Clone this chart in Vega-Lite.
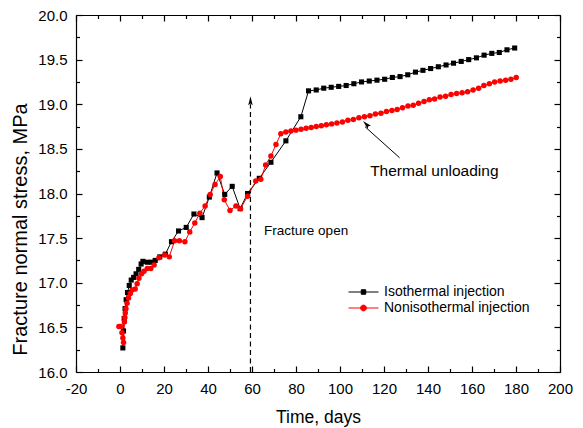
{
  "$schema": "https://vega.github.io/schema/vega-lite/v6.json",
  "width": 484,
  "height": 357,
  "autosize": {"type": "none"},
  "padding": {"left": 76, "top": 15, "right": 23, "bottom": 56},
  "background": "white",
  "config": {
    "view": {"stroke": null},
    "font": "Liberation Sans",
    "axis": {
      "labelFont": "Liberation Sans",
      "labelFontSize": 15,
      "labelColor": "black",
      "titleFont": "Liberation Sans",
      "titleColor": "black",
      "titleFontWeight": "normal",
      "domainColor": "black",
      "domainWidth": 1.2,
      "tickColor": "black",
      "tickWidth": 1.2,
      "grid": false,
      "labelFlush": false,
      "labelOverlap": false
    }
  },
  "datasets": {
    "series": [
      {"t": 1.3, "v": 16.27, "s": "Isothermal injection"},
      {"t": 1.6, "v": 16.46, "s": "Isothermal injection"},
      {"t": 1.9, "v": 16.6, "s": "Isothermal injection"},
      {"t": 2.3, "v": 16.71, "s": "Isothermal injection"},
      {"t": 2.8, "v": 16.81, "s": "Isothermal injection"},
      {"t": 3.4, "v": 16.89, "s": "Isothermal injection"},
      {"t": 4.2, "v": 16.97, "s": "Isothermal injection"},
      {"t": 5.1, "v": 17.03, "s": "Isothermal injection"},
      {"t": 6.2, "v": 17.06, "s": "Isothermal injection"},
      {"t": 7.3, "v": 17.1, "s": "Isothermal injection"},
      {"t": 8.5, "v": 17.15, "s": "Isothermal injection"},
      {"t": 9.6, "v": 17.21, "s": "Isothermal injection"},
      {"t": 10.4, "v": 17.24, "s": "Isothermal injection"},
      {"t": 12.4, "v": 17.23, "s": "Isothermal injection"},
      {"t": 14.3, "v": 17.23, "s": "Isothermal injection"},
      {"t": 16.0, "v": 17.25, "s": "Isothermal injection"},
      {"t": 18.1, "v": 17.29, "s": "Isothermal injection"},
      {"t": 20.6, "v": 17.32, "s": "Isothermal injection"},
      {"t": 23.4, "v": 17.46, "s": "Isothermal injection"},
      {"t": 26.6, "v": 17.58, "s": "Isothermal injection"},
      {"t": 30.1, "v": 17.62, "s": "Isothermal injection"},
      {"t": 33.6, "v": 17.77, "s": "Isothermal injection"},
      {"t": 37.3, "v": 17.73, "s": "Isothermal injection"},
      {"t": 40.6, "v": 17.96, "s": "Isothermal injection"},
      {"t": 44.1, "v": 18.23, "s": "Isothermal injection"},
      {"t": 47.6, "v": 17.99, "s": "Isothermal injection"},
      {"t": 51.0, "v": 18.08, "s": "Isothermal injection"},
      {"t": 54.6, "v": 17.83, "s": "Isothermal injection"},
      {"t": 58.0, "v": 18.0, "s": "Isothermal injection"},
      {"t": 63.3, "v": 18.17, "s": "Isothermal injection"},
      {"t": 68.6, "v": 18.35, "s": "Isothermal injection"},
      {"t": 75.4, "v": 18.59, "s": "Isothermal injection"},
      {"t": 82.2, "v": 18.86, "s": "Isothermal injection"},
      {"t": 85.7, "v": 19.15, "s": "Isothermal injection"},
      {"t": 89.2, "v": 19.16, "s": "Isothermal injection"},
      {"t": 92.6, "v": 19.18, "s": "Isothermal injection"},
      {"t": 96.0, "v": 19.19, "s": "Isothermal injection"},
      {"t": 99.4, "v": 19.2, "s": "Isothermal injection"},
      {"t": 102.8, "v": 19.21, "s": "Isothermal injection"},
      {"t": 106.3, "v": 19.23, "s": "Isothermal injection"},
      {"t": 109.8, "v": 19.25, "s": "Isothermal injection"},
      {"t": 113.3, "v": 19.26, "s": "Isothermal injection"},
      {"t": 116.8, "v": 19.27, "s": "Isothermal injection"},
      {"t": 120.3, "v": 19.28, "s": "Isothermal injection"},
      {"t": 123.8, "v": 19.3, "s": "Isothermal injection"},
      {"t": 127.3, "v": 19.31, "s": "Isothermal injection"},
      {"t": 130.8, "v": 19.33, "s": "Isothermal injection"},
      {"t": 134.3, "v": 19.36, "s": "Isothermal injection"},
      {"t": 137.7, "v": 19.38, "s": "Isothermal injection"},
      {"t": 141.2, "v": 19.4, "s": "Isothermal injection"},
      {"t": 144.7, "v": 19.42, "s": "Isothermal injection"},
      {"t": 148.2, "v": 19.44, "s": "Isothermal injection"},
      {"t": 151.6, "v": 19.46, "s": "Isothermal injection"},
      {"t": 155.1, "v": 19.48, "s": "Isothermal injection"},
      {"t": 158.5, "v": 19.5, "s": "Isothermal injection"},
      {"t": 162.0, "v": 19.52, "s": "Isothermal injection"},
      {"t": 165.5, "v": 19.55, "s": "Isothermal injection"},
      {"t": 169.0, "v": 19.57, "s": "Isothermal injection"},
      {"t": 172.4, "v": 19.58, "s": "Isothermal injection"},
      {"t": 175.9, "v": 19.61, "s": "Isothermal injection"},
      {"t": 179.4, "v": 19.63, "s": "Isothermal injection"},
      {"t": -0.5, "v": 16.51, "s": "Nonisothermal injection"},
      {"t": 0.4, "v": 16.51, "s": "Nonisothermal injection"},
      {"t": 0.9, "v": 16.44, "s": "Nonisothermal injection"},
      {"t": 1.3, "v": 16.38, "s": "Nonisothermal injection"},
      {"t": 1.6, "v": 16.33, "s": "Nonisothermal injection"},
      {"t": 2.0, "v": 16.56, "s": "Nonisothermal injection"},
      {"t": 2.2, "v": 16.61, "s": "Nonisothermal injection"},
      {"t": 2.4, "v": 16.66, "s": "Nonisothermal injection"},
      {"t": 2.7, "v": 16.71, "s": "Nonisothermal injection"},
      {"t": 3.2, "v": 16.77, "s": "Nonisothermal injection"},
      {"t": 3.9, "v": 16.83, "s": "Nonisothermal injection"},
      {"t": 4.7, "v": 16.88, "s": "Nonisothermal injection"},
      {"t": 5.5, "v": 16.92, "s": "Nonisothermal injection"},
      {"t": 6.9, "v": 16.93, "s": "Nonisothermal injection"},
      {"t": 7.8, "v": 16.99, "s": "Nonisothermal injection"},
      {"t": 8.6, "v": 17.05, "s": "Nonisothermal injection"},
      {"t": 9.8, "v": 17.1, "s": "Nonisothermal injection"},
      {"t": 10.9, "v": 17.13, "s": "Nonisothermal injection"},
      {"t": 12.4, "v": 17.16, "s": "Nonisothermal injection"},
      {"t": 14.0, "v": 17.16, "s": "Nonisothermal injection"},
      {"t": 15.5, "v": 17.2, "s": "Nonisothermal injection"},
      {"t": 17.7, "v": 17.28, "s": "Nonisothermal injection"},
      {"t": 20.3, "v": 17.31, "s": "Nonisothermal injection"},
      {"t": 22.4, "v": 17.29, "s": "Nonisothermal injection"},
      {"t": 24.8, "v": 17.47, "s": "Nonisothermal injection"},
      {"t": 27.0, "v": 17.47, "s": "Nonisothermal injection"},
      {"t": 29.5, "v": 17.46, "s": "Nonisothermal injection"},
      {"t": 31.7, "v": 17.57, "s": "Nonisothermal injection"},
      {"t": 34.0, "v": 17.67, "s": "Nonisothermal injection"},
      {"t": 36.3, "v": 17.78, "s": "Nonisothermal injection"},
      {"t": 38.7, "v": 17.86, "s": "Nonisothermal injection"},
      {"t": 41.0, "v": 17.99, "s": "Nonisothermal injection"},
      {"t": 43.2, "v": 18.1, "s": "Nonisothermal injection"},
      {"t": 45.6, "v": 18.19, "s": "Nonisothermal injection"},
      {"t": 47.4, "v": 17.93, "s": "Nonisothermal injection"},
      {"t": 50.0, "v": 17.81, "s": "Nonisothermal injection"},
      {"t": 52.7, "v": 17.86, "s": "Nonisothermal injection"},
      {"t": 54.8, "v": 17.83, "s": "Nonisothermal injection"},
      {"t": 58.0, "v": 17.97, "s": "Nonisothermal injection"},
      {"t": 61.7, "v": 18.14, "s": "Nonisothermal injection"},
      {"t": 64.0, "v": 18.16, "s": "Nonisothermal injection"},
      {"t": 66.2, "v": 18.32, "s": "Nonisothermal injection"},
      {"t": 68.6, "v": 18.42, "s": "Nonisothermal injection"},
      {"t": 70.9, "v": 18.55, "s": "Nonisothermal injection"},
      {"t": 73.1, "v": 18.67, "s": "Nonisothermal injection"},
      {"t": 75.4, "v": 18.69, "s": "Nonisothermal injection"},
      {"t": 77.7, "v": 18.7, "s": "Nonisothermal injection"},
      {"t": 80.0, "v": 18.71, "s": "Nonisothermal injection"},
      {"t": 82.3, "v": 18.72, "s": "Nonisothermal injection"},
      {"t": 84.6, "v": 18.73, "s": "Nonisothermal injection"},
      {"t": 86.9, "v": 18.74, "s": "Nonisothermal injection"},
      {"t": 89.2, "v": 18.75, "s": "Nonisothermal injection"},
      {"t": 91.5, "v": 18.76, "s": "Nonisothermal injection"},
      {"t": 93.8, "v": 18.77, "s": "Nonisothermal injection"},
      {"t": 96.2, "v": 18.78, "s": "Nonisothermal injection"},
      {"t": 98.6, "v": 18.79, "s": "Nonisothermal injection"},
      {"t": 101.1, "v": 18.8, "s": "Nonisothermal injection"},
      {"t": 103.6, "v": 18.82, "s": "Nonisothermal injection"},
      {"t": 106.1, "v": 18.83, "s": "Nonisothermal injection"},
      {"t": 108.6, "v": 18.85, "s": "Nonisothermal injection"},
      {"t": 111.1, "v": 18.86, "s": "Nonisothermal injection"},
      {"t": 113.6, "v": 18.87, "s": "Nonisothermal injection"},
      {"t": 116.1, "v": 18.89, "s": "Nonisothermal injection"},
      {"t": 118.6, "v": 18.9, "s": "Nonisothermal injection"},
      {"t": 121.1, "v": 18.92, "s": "Nonisothermal injection"},
      {"t": 123.6, "v": 18.93, "s": "Nonisothermal injection"},
      {"t": 126.0, "v": 18.94, "s": "Nonisothermal injection"},
      {"t": 128.4, "v": 18.96, "s": "Nonisothermal injection"},
      {"t": 130.9, "v": 18.98, "s": "Nonisothermal injection"},
      {"t": 133.3, "v": 18.99, "s": "Nonisothermal injection"},
      {"t": 135.7, "v": 19.01, "s": "Nonisothermal injection"},
      {"t": 138.2, "v": 19.03, "s": "Nonisothermal injection"},
      {"t": 140.6, "v": 19.05, "s": "Nonisothermal injection"},
      {"t": 143.0, "v": 19.06, "s": "Nonisothermal injection"},
      {"t": 145.5, "v": 19.08, "s": "Nonisothermal injection"},
      {"t": 148.0, "v": 19.09, "s": "Nonisothermal injection"},
      {"t": 150.5, "v": 19.11, "s": "Nonisothermal injection"},
      {"t": 153.0, "v": 19.12, "s": "Nonisothermal injection"},
      {"t": 155.5, "v": 19.13, "s": "Nonisothermal injection"},
      {"t": 158.0, "v": 19.14, "s": "Nonisothermal injection"},
      {"t": 160.5, "v": 19.16, "s": "Nonisothermal injection"},
      {"t": 163.0, "v": 19.18, "s": "Nonisothermal injection"},
      {"t": 165.4, "v": 19.21, "s": "Nonisothermal injection"},
      {"t": 167.9, "v": 19.23, "s": "Nonisothermal injection"},
      {"t": 170.3, "v": 19.25, "s": "Nonisothermal injection"},
      {"t": 172.8, "v": 19.26, "s": "Nonisothermal injection"},
      {"t": 175.3, "v": 19.27, "s": "Nonisothermal injection"},
      {"t": 177.7, "v": 19.28, "s": "Nonisothermal injection"},
      {"t": 180.1, "v": 19.3, "s": "Nonisothermal injection"}
    ],
    "vline": [{"t": 59.3, "v": 16.0, "v2": 19.0}],
    "vhead": [{"t": 59.3, "v": 19.04}],
    "sline": [{"t": 127.1, "v": 18.4, "t2": 111.3, "v2": 18.75}],
    "shead": [{"t": 111.9, "v": 18.776}],
    "notes": [
      {"t": 65.5, "v": 17.58, "label": "Fracture open", "k": "a"},
      {"t": 113.7, "v": 18.248, "label": "Thermal unloading", "k": "b"}
    ]
  },
  "layer": [
    {
      "data": {"name": "vline"},
      "mark": {"type": "rule", "color": "black", "strokeWidth": 1.2, "strokeDash": [5, 3.5]},
      "encoding": {
        "x": {
          "field": "t", "type": "quantitative",
          "scale": {"domain": [-20, 200], "nice": false, "zero": false},
          "axis": {
            "orient": "bottom",
            "values": [-20, -10, 0, 10, 20, 30, 40, 50, 60, 70, 80, 90, 100, 110, 120, 130, 140, 150, 160, 170, 180, 190, 200],
            "labelExpr": "datum.value % 20 === 0 ? '' + datum.value : ''",
            "tickSize": {"condition": {"test": "datum.value % 20 === 0", "value": -6}, "value": -3.5},
            "labelPadding": 15,
            "title": "Time, days",
            "titleFontSize": 17.5,
            "titleFontWeight": "normal",
            "titlePadding": 10
          }
        },
        "y": {
          "field": "v", "type": "quantitative",
          "scale": {"domain": [16, 20], "nice": false, "zero": false},
          "axis": {
            "orient": "left",
            "values": [16, 16.25, 16.5, 16.75, 17, 17.25, 17.5, 17.75, 18, 18.25, 18.5, 18.75, 19, 19.25, 19.5, 19.75, 20],
            "format": ".1f",
            "labelExpr": "(datum.value * 2) % 1 === 0 ? datum.label : ''",
            "tickSize": {"condition": {"test": "(datum.value * 2) % 1 === 0", "value": -6}, "value": -3.5},
            "labelPadding": 15,
            "title": "Fracture normal stress, MPa",
            "titleFontSize": 20,
            "titleFontWeight": "normal",
            "titlePadding": 7,
            "titleY": 214
          }
        },
        "y2": {"field": "v2"}
      }
    },
    {
      "data": {"name": "sline"},
      "mark": {"type": "rule", "color": "black", "strokeWidth": 1},
      "encoding": {
        "x": {
          "field": "t", "type": "quantitative",
          "scale": {"domain": [-20, 200], "nice": false, "zero": false},
          "axis": {
            "orient": "top",
            "values": [-20, -10, 0, 10, 20, 30, 40, 50, 60, 70, 80, 90, 100, 110, 120, 130, 140, 150, 160, 170, 180, 190, 200],
            "labels": false,
            "tickSize": {"condition": {"test": "datum.value % 20 === 0", "value": -6}, "value": -3.5},
            "title": null
          }
        },
        "y": {
          "field": "v", "type": "quantitative",
          "scale": {"domain": [16, 20], "nice": false, "zero": false},
          "axis": {
            "orient": "right",
            "values": [16, 16.25, 16.5, 16.75, 17, 17.25, 17.5, 17.75, 18, 18.25, 18.5, 18.75, 19, 19.25, 19.5, 19.75, 20],
            "labels": false,
            "tickSize": {"condition": {"test": "(datum.value * 2) % 1 === 0", "value": -6}, "value": -3.5},
            "title": null
          }
        },
        "x2": {"field": "t2"},
        "y2": {"field": "v2"}
      }
    },
    {
      "data": {"name": "series"},
      "mark": {"type": "line", "strokeWidth": 1},
      "encoding": {
        "x": {"field": "t", "type": "quantitative", "axis": null},
        "y": {"field": "v", "type": "quantitative", "axis": null},
        "color": {
          "field": "s", "type": "nominal",
          "scale": {"domain": ["Isothermal injection", "Nonisothermal injection"], "range": ["#000000", "#ff0000"]},
          "legend": {
            "orient": "none", "legendX": 279, "legendY": 268.5, "title": null,
            "symbolSize": 256, "symbolStrokeWidth": 1, "padding": 0, "rowPadding": 0,
            "labelFont": "Liberation Sans", "labelFontSize": 14, "labelColor": "black", "labelOffset": 12,
            "encode": {
              "symbols": {
                "update": {
                  "shape": {"signal": "datum.value === 'Isothermal injection' ? 'M-1.875,0H1.875M-0.28,-0.28H0.28V0.28H-0.28Z' : 'M-1.875,0H1.875M0.36,0A0.36,0.36,0,1,1,-0.36,0A0.36,0.36,0,1,1,0.36,0Z'"},
                  "fill": {"signal": "datum.value === 'Isothermal injection' ? '#000000' : '#ff0000'"},
                  "stroke": {"signal": "datum.value === 'Isothermal injection' ? '#000000' : '#ff0000'"}
                }
              }
            }
          }
        }
      }
    },
    {
      "data": {"name": "series"},
      "transform": [{"filter": "datum.s === 'Isothermal injection'"}],
      "mark": {"type": "point", "shape": "square", "filled": true, "color": "#000000", "opacity": 1, "size": 26},
      "encoding": {
        "x": {"field": "t", "type": "quantitative", "axis": null},
        "y": {"field": "v", "type": "quantitative", "axis": null}
      }
    },
    {
      "data": {"name": "series"},
      "transform": [{"filter": "datum.s === 'Nonisothermal injection'"}],
      "mark": {"type": "point", "shape": "circle", "filled": true, "color": "#ff0000", "opacity": 1, "size": 30},
      "encoding": {
        "x": {"field": "t", "type": "quantitative", "axis": null},
        "y": {"field": "v", "type": "quantitative", "axis": null}
      }
    },
    {
      "data": {"name": "vhead"},
      "mark": {"type": "point", "shape": "M0,-1L0.5,1L0,0.65L-0.5,1Z", "filled": true, "color": "black", "opacity": 1, "size": 81},
      "encoding": {
        "x": {"field": "t", "type": "quantitative", "axis": null},
        "y": {"field": "v", "type": "quantitative", "axis": null}
      }
    },
    {
      "data": {"name": "shead"},
      "mark": {"type": "point", "shape": "M0,-1L0.5,1L0,0.65L-0.5,1Z", "filled": true, "color": "black", "opacity": 1, "size": 81, "angle": -44.5},
      "encoding": {
        "x": {"field": "t", "type": "quantitative", "axis": null},
        "y": {"field": "v", "type": "quantitative", "axis": null}
      }
    },
    {
      "data": {"name": "notes"},
      "transform": [{"filter": "datum.k === 'a'"}],
      "mark": {"type": "text", "align": "left", "baseline": "middle", "font": "Liberation Sans", "fontSize": 13.5, "color": "black"},
      "encoding": {
        "x": {"field": "t", "type": "quantitative", "axis": null},
        "y": {"field": "v", "type": "quantitative", "axis": null},
        "text": {"field": "label"}
      }
    },
    {
      "data": {"name": "notes"},
      "transform": [{"filter": "datum.k === 'b'"}],
      "mark": {"type": "text", "align": "left", "baseline": "middle", "font": "Liberation Sans", "fontSize": 15.5, "color": "black"},
      "encoding": {
        "x": {"field": "t", "type": "quantitative", "axis": null},
        "y": {"field": "v", "type": "quantitative", "axis": null},
        "text": {"field": "label"}
      }
    }
  ],
  "resolve": {"axis": {"x": "independent", "y": "independent"}}
}
